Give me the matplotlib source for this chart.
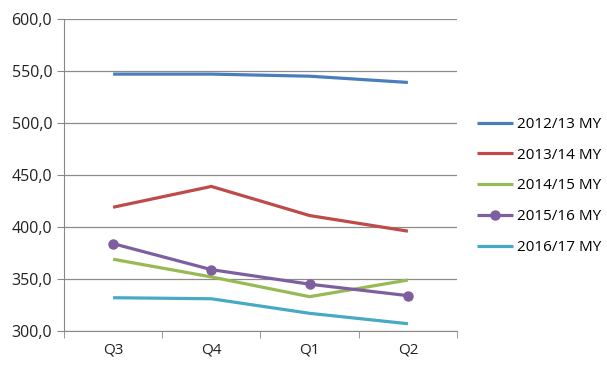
import matplotlib
matplotlib.use("Agg")
import matplotlib.pyplot as plt
from matplotlib.ticker import FuncFormatter, FixedLocator

quarters = ["Q3", "Q4", "Q1", "Q2"]
my_2012_13 = [547, 547, 545, 539]
my_2013_14 = [419, 439, 411, 396]
my_2014_15 = [369, 352, 333, 349]
my_2015_16 = [384, 359, 345, 334]
my_2016_17 = [332, 331, 317, 307]

series = [
    ("2012/13 MY", my_2012_13, "#4A7EBB", None),
    ("2013/14 MY", my_2013_14, "#BE4B48", None),
    ("2014/15 MY", my_2014_15, "#98B954", None),
    ("2015/16 MY", my_2015_16, "#7D5FA0", "o"),
    ("2016/17 MY", my_2016_17, "#46AAC5", None),
]

plt.rcParams["font.family"] = ["Open Sans", "DejaVu Sans"]

fig = plt.figure(figsize=(6.07, 3.73), dpi=100)
ax = fig.add_axes([0.1054, 0.1126, 0.6475, 0.8365])

x = list(range(len(quarters)))
for label, vals, color, marker in series:
    ax.plot(x, vals, color=color, lw=2.3, marker=marker, markersize=6.5,
            label=label, solid_capstyle="butt")

ax.set_xlim(-0.5, len(quarters) - 0.5)
ax.set_ylim(300, 600)
ax.set_yticks(range(300, 601, 50))
ax.yaxis.set_major_formatter(FuncFormatter(lambda v, p: f"{v:.1f}".replace(".", ",")))
ax.set_xticks(x)
ax.set_xticklabels(quarters)
ax.xaxis.set_minor_locator(FixedLocator([i - 0.5 for i in range(len(quarters) + 1)]))
ax.tick_params(axis="x", which="major", length=0, pad=8, labelsize=11, colors="#222222")
ax.tick_params(axis="x", which="minor", length=5, color="#888888")
ax.tick_params(axis="y", length=5, color="#888888", labelsize=11.5, labelcolor="#222222")
ax.grid(axis="y", color="#8c8c8c", lw=0.9)
ax.set_axisbelow(True)
for side in ["top", "right"]:
    ax.spines[side].set_visible(False)
for side in ["left", "bottom"]:
    ax.spines[side].set_color("#888888")

ax.legend(loc="center left", bbox_to_anchor=(1.015, 0.465), frameon=False,
          fontsize=11, labelspacing=1.03, handlelength=2.35, handletextpad=0.27)

fig.savefig("out.png", dpi=100)
